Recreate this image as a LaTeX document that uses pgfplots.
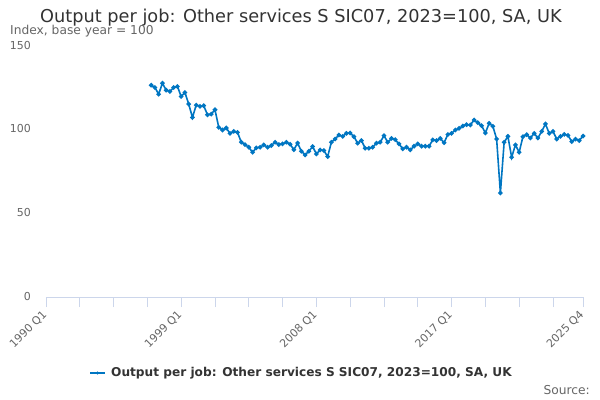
\documentclass[border=0pt]{standalone}
\usepackage{pgfplots}
\pgfplotsset{compat=1.18}
\usepackage{fontspec}
\setmainfont{DejaVu Sans}
\definecolor{serieblue}{RGB}{0,118,194}
\definecolor{txtdark}{RGB}{51,51,51}
\definecolor{txtgray}{RGB}{102,102,102}
\definecolor{gridgray}{RGB}{230,230,230}
\definecolor{axisblue}{RGB}{204,214,235}
\begin{document}
\begin{tikzpicture}
\useasboundingbox[fill=white] (0,0) rectangle (600bp,400bp);
\begin{axis}[
  at={(46bp,103bp)}, anchor=south west,
  width=537bp, height=251bp, scale only axis,
  xmin=0, xmax=143, ymin=0, ymax=150,
  axis line style={draw=none},
  axis x line*=bottom,
  x axis line style={draw=axisblue, line width=0.8pt},
  axis y line=none,
  ytick={0,50,100,150},
  ymajorgrids, grid style={gridgray, line width=0.6pt},
  xtick={0,36,72,108,143},
  xticklabels={1990 Q1,1999 Q1,2008 Q1,2017 Q1,2025 Q4},
  minor xtick={9,18,27,45,54,63,81,90,99,117,126,135},
  major tick length=10bp, minor tick length=10bp,
  tick style={axisblue, line width=0.8pt},
  xtick align=outside,
  xticklabel style={yshift=-6bp, xshift=-1bp, rotate=45, anchor=east, font=\fontsize{11}{12}\selectfont, text=txtgray, inner sep=0pt},
  clip=false,
]
\addplot[serieblue, line width=1.6pt, mark=*, mark size=1.4pt, mark options={fill=serieblue, draw=serieblue}] coordinates {
(28,126.6)(29,125.2)(30,121.2)(31,127.8)(32,123.6)(33,122.8)(34,125.2)(35,125.8)
(36,119.8)(37,122.2)(38,115.3)(39,107.3)(40,114.7)(41,113.9)(42,114.3)(43,108.9)
(44,109.3)(45,111.9)(46,101.4)(47,99.8)(48,101.0)(49,97.8)(50,99.0)(51,98.4)
(52,92.5)(53,91.1)(54,89.5)(55,86.5)(56,89.1)(57,89.5)(58,90.9)(59,89.5)
(60,90.5)(61,92.5)(62,91.1)(63,91.5)(64,92.5)(65,91.3)(66,88.0)(67,92.0)
(68,87.1)(69,84.9)(70,87.1)(71,89.9)(72,85.5)(73,87.9)(74,87.5)(75,83.9)
(76,92.5)(77,94.4)(78,96.8)(79,96.0)(80,97.8)(81,98.0)(82,95.8)(83,91.9)
(84,93.5)(85,88.9)(86,88.9)(87,89.5)(88,91.9)(89,92.5)(90,96.4)(91,92.5)
(92,94.8)(93,94.0)(94,91.5)(95,88.5)(96,89.5)(97,87.9)(98,90.1)(99,91.5)
(100,90.1)(101,90.1)(102,90.1)(103,93.9)(104,93.5)(105,94.8)(106,92.2)(107,97.1)
(108,97.8)(109,99.8)(110,100.8)(111,102.2)(112,103.0)(113,102.8)(114,105.8)(115,104.2)
(116,102.4)(117,98.0)(118,103.8)(119,102.0)(120,94.4)(121,62.1)(122,92.5)(123,96.0)
(124,83.5)(125,90.9)(126,86.5)(127,95.8)(128,97.0)(129,95.0)(130,97.8)(131,95.0)
(132,99.0)(133,103.4)(134,97.8)(135,99.0)(136,94.4)(137,96.0)(138,97.2)(139,96.6)
(140,92.9)(141,94.4)(142,93.5)(143,96.2)
};
\end{axis}
% y tick labels
\foreach \v/\p in {0/297,50/213,100/129,150/46}{
  \node[anchor=east, font=\fontsize{11}{12}\selectfont, text=txtgray, inner sep=0pt] at (31bp,{(400-\p)*1bp}) {\v};
}
% title and subtitle
\node[font=\fontsize{17.8}{20}\selectfont, text=txtdark, anchor=base] at (301bp,377bp) {Output per job: Other services S SIC07, 2023=100, SA, UK};
\node[font=\fontsize{12.3}{14}\selectfont, text=txtgray, anchor=base west, inner sep=0pt] at (10bp,365bp) {Index, base year = 100};
% legend
\draw[serieblue, line width=1.6pt] (90bp,27bp) -- (105bp,27bp);
\fill[serieblue] (97.5bp,27bp) circle (1.6pt);
\node[font=\bfseries\fontsize{12.2}{14}\selectfont, text=txtdark, anchor=west, inner sep=0pt] at (111bp,27bp) {Output per job: Other services S SIC07, 2023=100, SA, UK};
% source
\node[font=\fontsize{12.3}{14}\selectfont, text=txtgray, anchor=base east, inner sep=0pt] at (590bp,6bp) {Source:};
\end{tikzpicture}
\end{document}
